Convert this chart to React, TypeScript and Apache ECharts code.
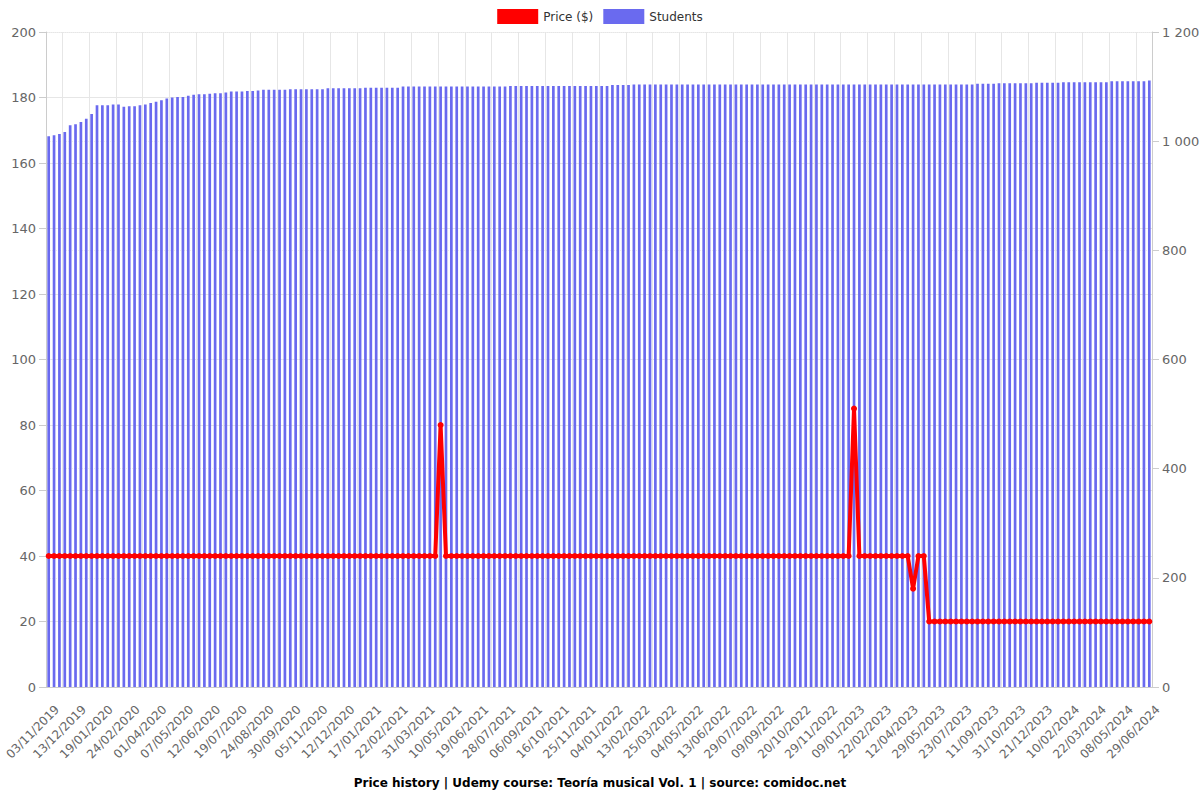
import React, { useEffect, useRef } from "react";
import * as echarts from "echarts";

const labelDates = [
  "03/11/2019", "13/12/2019", "19/01/2020", "24/02/2020", "01/04/2020", "07/05/2020",
  "12/06/2020", "19/07/2020", "24/08/2020", "30/09/2020", "05/11/2020", "12/12/2020",
  "17/01/2021", "22/02/2021", "31/03/2021", "10/05/2021", "19/06/2021", "28/07/2021",
  "06/09/2021", "16/10/2021", "25/11/2021", "04/01/2022", "13/02/2022", "25/03/2022",
  "04/05/2022", "13/06/2022", "29/07/2022", "09/09/2022", "20/10/2022", "29/11/2022",
  "09/01/2023", "22/02/2023", "12/04/2023", "29/05/2023", "23/07/2023", "11/09/2023",
  "31/10/2023", "21/12/2023", "10/02/2024", "22/03/2024", "08/05/2024", "29/06/2024",
];

const price = [
  40, 40, 40, 40, 40, 40, 40, 40, 40, 40, 40, 40, 40, 40, 40, 40, 40, 40, 40, 40,
  40, 40, 40, 40, 40, 40, 40, 40, 40, 40, 40, 40, 40, 40, 40, 40, 40, 40, 40, 40,
  40, 40, 40, 40, 40, 40, 40, 40, 40, 40, 40, 40, 40, 40, 40, 40, 40, 40, 40, 40,
  40, 40, 40, 40, 40, 40, 40, 40, 40, 40, 40, 40, 40, 80, 40, 40, 40, 40, 40, 40,
  40, 40, 40, 40, 40, 40, 40, 40, 40, 40, 40, 40, 40, 40, 40, 40, 40, 40, 40, 40,
  40, 40, 40, 40, 40, 40, 40, 40, 40, 40, 40, 40, 40, 40, 40, 40, 40, 40, 40, 40,
  40, 40, 40, 40, 40, 40, 40, 40, 40, 40, 40, 40, 40, 40, 40, 40, 40, 40, 40, 40,
  40, 40, 40, 40, 40, 40, 40, 40, 40, 40, 85, 40, 40, 40, 40, 40, 40, 40, 40, 40,
  40, 30, 40, 40, 20, 20, 20, 20, 20, 20, 20, 20, 20, 20, 20, 20, 20, 20, 20, 20,
  20, 20, 20, 20, 20, 20, 20, 20, 20, 20, 20, 20, 20, 20, 20, 20, 20, 20, 20, 20,
  20, 20, 20, 20, 20, 20,
];

const students = [
  1009, 1011, 1013, 1017, 1029, 1031, 1035, 1041, 1050, 1066, 1066, 1066, 1067, 1067,
  1063, 1064, 1064, 1066, 1067, 1070, 1072, 1075, 1078, 1080, 1081, 1081, 1083, 1085,
  1086, 1086, 1087, 1088, 1088, 1089, 1091, 1091, 1091, 1092, 1092, 1093,
  1094, 1094, 1094, 1094, 1094,
  1095, 1095, 1095, 1095, 1095, 1095, 1095,
  1097, 1097, 1097, 1097, 1097, 1097, 1097,
  1098, 1098, 1098, 1098, 1098, 1098, 1098,
  1100, 1100, 1100, 1100, 1100, 1100, 1100, 1100, 1100, 1100, 1100, 1100, 1100, 1100,
  1100, 1100, 1100, 1100, 1100, 1100,
  1101, 1101, 1101, 1101, 1101, 1101, 1101, 1101, 1101, 1101, 1101, 1101, 1101, 1101,
  1101, 1101, 1101, 1101, 1101,
  1103, 1103, 1103, 1103,
  1104, 1104, 1104, 1104, 1104, 1104, 1104, 1104, 1104, 1104, 1104, 1104, 1104, 1104,
  1104, 1104, 1104, 1104, 1104, 1104, 1104, 1104, 1104, 1104, 1104, 1104, 1104, 1104,
  1104, 1104, 1104, 1104, 1104, 1104, 1104, 1104, 1104, 1104, 1104, 1104, 1104, 1104,
  1104, 1104, 1104, 1104, 1104, 1104, 1104, 1104, 1104, 1104, 1104, 1104, 1104, 1104,
  1104, 1104, 1104, 1104, 1104, 1104, 1104, 1104,
  1105, 1105, 1105, 1105,
  1106, 1106, 1106, 1106, 1106, 1106, 1106,
  1107, 1107, 1107, 1107, 1107,
  1108, 1108, 1108, 1108, 1108, 1108, 1108, 1108, 1108,
  1110, 1110, 1110, 1110, 1110, 1110, 1110,
  1111,
];

const LABEL_STEP = 5;
const TICK_OFFSET = 3;

function parseDate(s: string): Date {
  const [d, m, y] = s.split("/").map(Number);
  return new Date(Date.UTC(y, m - 1, d));
}
function fmt(dt: Date): string {
  const d = String(dt.getUTCDate()).padStart(2, "0");
  const m = String(dt.getUTCMonth() + 1).padStart(2, "0");
  return `${d}/${m}/${dt.getUTCFullYear()}`;
}

// categories: labelled dates every LABEL_STEP bars, unlabelled dates between them
function buildCategories(total: number): string[] {
  const out: string[] = [];
  for (let j = 0; j < labelDates.length; j++) {
    out.push(labelDates[j]);
    if (j + 1 >= labelDates.length) break;
    const a = parseDate(labelDates[j]).getTime();
    const b = parseDate(labelDates[j + 1]).getTime();
    for (let k = 1; k < LABEL_STEP; k++) {
      const t = a + Math.round(((b - a) / 86400000) * (k / LABEL_STEP)) * 86400000;
      out.push(fmt(new Date(t)));
    }
  }
  return out.slice(0, total);
}

const categories = buildCategories(students.length);

const labelAt = (index: number) => index % LABEL_STEP === 0;
const tickAt = (index: number) => index % LABEL_STEP === TICK_OFFSET;

const FONT = "DejaVu Sans, sans-serif";

export default function App() {
  const ref = useRef<HTMLDivElement>(null);
  useEffect(() => {
    document.body.style.margin = "0";
    const chart = echarts.init(ref.current!, undefined, { renderer: "svg" });
    chart.setOption({
      animation: false,
      textStyle: { fontFamily: FONT },
      title: {
        text: "Price history | Udemy course: Teoría musical Vol. 1 | source: comidoc.net",
        left: "center",
        bottom: 6,
        textStyle: { fontSize: 12, fontWeight: "bold", color: "#000", fontFamily: FONT },
      },
      legend: {
        top: 4,
        left: "center",
        icon: "rect",
        itemWidth: 41,
        itemHeight: 15,
        itemGap: 10,
        textStyle: { fontSize: 12, color: "#333", fontFamily: FONT },
      },
      grid: { left: 46, right: 48, top: 32, bottom: 113, containLabel: false, outerBoundsMode: "none" },
      xAxis: {
        type: "category",
        data: categories,
        boundaryGap: true,
        axisLine: { lineStyle: { color: "#ccc" } },
        axisTick: { interval: tickAt, length: 6, lineStyle: { color: "#ccc" } },
        axisLabel: {
          interval: labelAt,
          rotate: 45,
          align: "right",
          verticalAlign: "top",
          padding: [6, 0, 0, 0],
          margin: 12,
          color: "#666",
          fontSize: 12,
          fontFamily: FONT,
        },
        splitLine: { show: true, interval: tickAt, lineStyle: { color: "#e6e6e6" } },
      },
      yAxis: [
        {
          type: "value",
          min: 0,
          max: 200,
          interval: 20,
          position: "left",
          axisLine: { show: true, lineStyle: { color: "#ccc" } },
          axisTick: { show: true, length: 7, lineStyle: { color: "#ccc" } },
          axisLabel: { color: "#666", fontSize: 13, margin: 10, fontFamily: FONT },
          splitLine: { show: true, lineStyle: { color: "#e6e6e6" } },
        },
        {
          type: "value",
          min: 0,
          max: 1200,
          interval: 200,
          position: "right",
          axisLine: { show: true, lineStyle: { color: "#ccc" } },
          axisTick: { show: true, length: 7, lineStyle: { color: "#ccc" } },
          axisLabel: {
            color: "#666",
            fontSize: 13,
            margin: 10,
            fontFamily: FONT,
            formatter: (v: number) => String(v).replace(/\B(?=(\d{3})+(?!\d))/g, " "),
          },
          splitLine: { show: true, lineStyle: { color: "#eee", type: "dotted" } },
        },
      ],
      series: [
        {
          name: "Price ($)",
          type: "line",
          yAxisIndex: 0,
          data: price,
          symbol: "circle",
          symbolSize: 6,
          showAllSymbol: true,
          lineStyle: { width: 4, color: "#ff0000" },
          itemStyle: { color: "#ff0000" },
          z: 3,
        },
        {
          name: "Students",
          type: "bar",
          yAxisIndex: 1,
          data: students,
          barWidth: "50%",
          itemStyle: { color: "#6a6aef" },
          z: 2,
        },
      ],
    });
    return () => chart.dispose();
  }, []);
  return <div ref={ref} style={{ width: 1200, height: 800 }} />;
}
